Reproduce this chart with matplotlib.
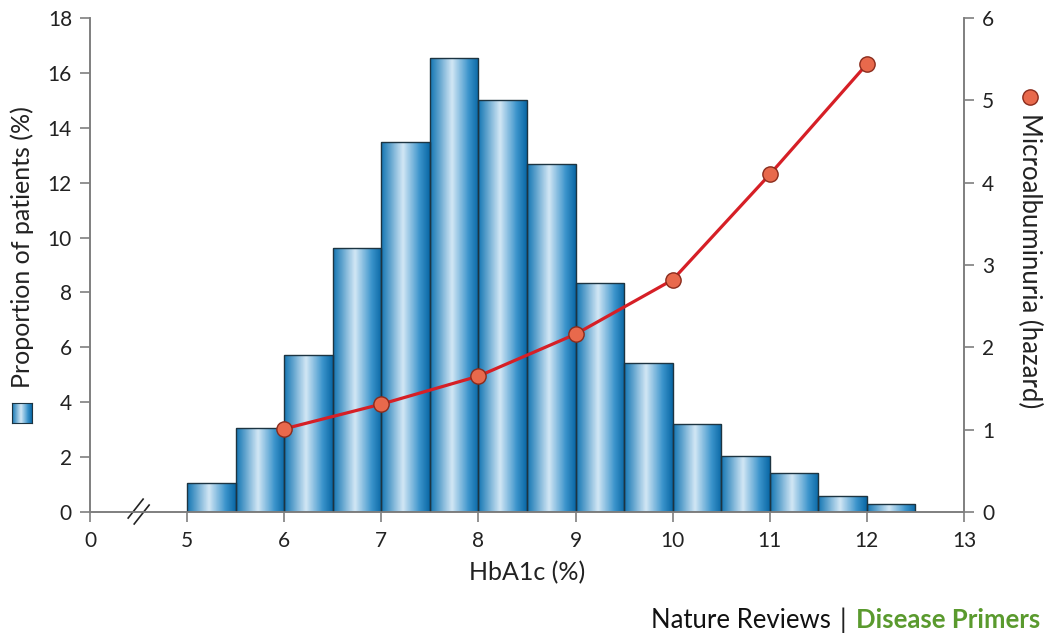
import numpy as np
import matplotlib
matplotlib.use("Agg")
import matplotlib.pyplot as plt
from matplotlib.colors import LinearSegmentedColormap
from matplotlib.patches import Rectangle

plt.rcParams['font.family'] = ['Lato', 'DejaVu Sans']

# histogram of HbA1c (left axis, % of patients), bins of 0.5
bin_left = [5.0, 5.5, 6.0, 6.5, 7.0, 7.5, 8.0, 8.5, 9.0, 9.5, 10.0, 10.5, 11.0, 11.5, 12.0]
proportion = [1.05, 3.05, 5.72, 9.62, 13.48, 16.55, 15.01, 12.68, 8.34, 5.43, 3.2, 2.05, 1.42, 0.6, 0.28]
bin_width = 0.5

# microalbuminuria hazard (right axis)
hba1c = [6, 7, 8, 9, 10, 11, 12]
hazard = [1.01, 1.31, 1.65, 2.16, 2.82, 4.1, 5.44]

x_ticks = [4, 5, 6, 7, 8, 9, 10, 11, 12, 13]
x_ticklabels = ['0', '5', '6', '7', '8', '9', '10', '11', '12', '13']

grey = '#7f7f7f'
red = '#d61f26'
green = '#5a9a2e'
bar_cmap = LinearSegmentedColormap.from_list(
    'cyl', [(0, '#1476b3'), (0.45, '#d2e7f5'), (0.8, '#3a93cb'), (1, '#0a68a5')])
grad = np.linspace(0, 1, 64).reshape(1, -1)

fig = plt.figure(figsize=(10.5, 6.42), dpi=100)
ax = fig.add_axes([90 / 1050, 1 - 512 / 642, (964 - 90) / 1050, (512 - 18) / 642])
ax2 = ax.twinx()

for x0, h in zip(bin_left, proportion):
    rect = Rectangle((x0, 0), bin_width, h, facecolor='none', edgecolor='#1d3441',
                     linewidth=1.0, zorder=3)
    ax.add_patch(rect)
    im = ax.imshow(grad, cmap=bar_cmap, aspect='auto', extent=(x0, x0 + bin_width, 0, h),
                   zorder=2, interpolation='bilinear')
    im.set_clip_path(rect)

ax.set_xlim(4, 13)
ax.set_ylim(0, 18)
ax.set_xticks(x_ticks)
ax.set_xticklabels(x_ticklabels)
ax.set_yticks(range(0, 19, 2))

ax2.plot(hba1c, hazard, color=red, linewidth=2.3, zorder=5,
         marker='o', markersize=11, markerfacecolor='#e8694c',
         markeredgecolor='#8a2b1c', markeredgewidth=1.0)
ax2.set_ylim(0, 6)
ax2.set_yticks(range(0, 7))

for a in (ax, ax2):
    a.spines['top'].set_visible(False)
    for s in a.spines.values():
        s.set_color(grey)
        s.set_linewidth(1.2)
    a.tick_params(colors=grey, labelcolor='#222222', labelsize=15, length=7, width=1.2)
    a.set_facecolor('none')
ax.tick_params(axis='y', pad=6)
ax2.tick_params(axis='y', pad=6)
ax.tick_params(axis='x', pad=7)

# axis break marks
for dx in (0.0, 0.062):
    ax.plot([4.393 + dx, 4.547 + dx], [-0.22 - dx * 3.5, 0.47 - dx * 3.5],
            color='#222222', linewidth=1.2, clip_on=False, zorder=6)

ax.set_xlabel('HbA1c (%)', fontsize=18, color='#222222', labelpad=7)

# left label with bar swatch
fig.text(22 / 1050, 1 - 388 / 642, 'Proportion of patients (%)', rotation=90,
         ha='center', va='bottom', fontsize=18, color='#222222')
sw = fig.add_axes([12 / 1050, 1 - 423 / 642, 20 / 1050, 20 / 642])
sw.imshow(grad, cmap=bar_cmap, aspect='auto', interpolation='bilinear')
sw.set_xticks([])
sw.set_yticks([])
for s in sw.spines.values():
    s.set_color('#1d3441')

# right label with marker
fig.text(1030 / 1050, 1 - 113 / 642, 'Microalbuminuria (hazard)', rotation=270,
         ha='center', va='top', fontsize=18.5, color='#222222')
fig.lines.append(plt.Line2D([1030 / 1050], [1 - 97 / 642], transform=fig.transFigure,
                            marker='o', markersize=11, markerfacecolor='#e8694c',
                            markeredgecolor='#8a2b1c', linestyle='none'))

# footer
t3 = fig.text(1040 / 1050, 1 - 620 / 642, 'Disease Primers', ha='right', va='center',
              fontsize=18.5, fontweight='bold', color=green)
fig.canvas.draw()
r = fig.canvas.get_renderer()
bb = t3.get_window_extent(r)
t2 = fig.text((bb.x0 - 9) / 1050, 1 - 620 / 642, '|', ha='right', va='center',
              fontsize=19, color='#222222')
bb2 = t2.get_window_extent(r)
fig.text((bb2.x0 - 9) / 1050, 1 - 620 / 642, 'Nature Reviews', ha='right', va='center',
         fontsize=18.5, color='#111111')

fig.savefig('out.png', dpi=100)
